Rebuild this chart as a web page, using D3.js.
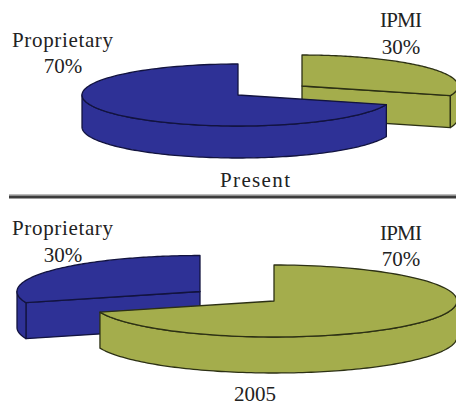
<!DOCTYPE html>
<html>
<head>
<meta charset="utf-8">
<script src="https://cdn.jsdelivr.net/npm/d3@7"></script>
<style>
html,body{margin:0;padding:0;background:#fff;overflow:hidden}
text{font-family:"Liberation Serif",serif;fill:#222;text-anchor:middle}
</style>
</head>
<body>
<svg id="chart" width="456" height="406"></svg>
<script>
// Share of management interfaces, then and now
const categories = ["IPMI", "Proprietary"];
const presentShares = [30, 70];
const earlierShares = [70, 30];
const periods = ["Present", "2005"];
const sliceColors = ["#a4ad4c", "#2e3196"];
const edgeColors = ["#2c3014", "#12133f"];

const svg = d3.select("#chart");
const pie = d3.pie().sort(null).value(d => d);
const line = d3.line();

// Flattened disc: angle is measured clockwise from 12 o'clock
function rimPoint(o, a, drop) {
  return [o.x + o.rx * Math.sin(a), o.y - o.ry * Math.cos(a) + drop];
}
function arcPoints(o, a0, a1, drop) {
  return d3.range(0, 121).map(i => rimPoint(o, a0 + (a1 - a0) * i / 120, drop));
}

function drawSlice(g, slice, o, depth, color, edge) {
  const a0 = slice.startAngle, a1 = slice.endAngle;
  const paint = pts => g.append("path")
    .attr("d", line(pts) + "Z")
    .attr("fill", color)
    .attr("stroke", edge)
    .attr("stroke-width", 1.3)
    .attr("stroke-linejoin", "round");

  // Radial wall, drawn only when it faces the viewer
  const wall = a => {
    const t = rimPoint(o, a, 0);
    paint([[o.x, o.y], t, [t[0], t[1] + depth], [o.x, o.y + depth]]);
  };
  if (-Math.sin(a0) > 1e-6) wall(a0);
  if (Math.sin(a1) > 1e-6) wall(a1);

  // Outer wall: the part of the rim on the near side of the disc
  const lo = Math.max(a0, Math.PI / 2), hi = Math.min(a1, 1.5 * Math.PI);
  if (hi > lo) {
    paint(arcPoints(o, lo, hi, 0).concat(arcPoints(o, hi, lo, depth)));
  }

  // Top face
  paint([[o.x, o.y]].concat(arcPoints(o, a0, a1, 0)));
}

function drawPie(shares, placement, order) {
  const g = svg.append("g");
  const slices = pie(shares);
  order.forEach(i => {
    drawSlice(g, slices[i], placement.centers[i], placement.depth, sliceColors[i], edgeColors[i]);
  });
}

drawPie(presentShares, {
  depth: 32,
  centers: [
    {x: 302, y: 86, rx: 156, ry: 31},
    {x: 238, y: 95, rx: 156, ry: 31}
  ]
}, [0, 1]);

drawPie(earlierShares, {
  depth: 36,
  centers: [
    {x: 274, y: 301, rx: 183, ry: 36},
    {x: 200, y: 291.5, rx: 183, ry: 36}
  ]
}, [1, 0]);

// Divider between the two periods
svg.append("rect").attr("x", 9).attr("y", 194).attr("width", 447).attr("height", 1.5).attr("fill", "#bbb");
svg.append("rect").attr("x", 9).attr("y", 195.5).attr("width", 447).attr("height", 3).attr("fill", "#3c3c3c");

// Labels; wide words are stretched to their set width
const label = (s, x, y, width) => {
  const t = svg.append("text").attr("x", x).attr("y", y).attr("font-size", 21).text(s);
  if (width) t.attr("textLength", width).attr("lengthAdjust", "spacing");
};

label(categories[1], 62.5, 47, 101);
label(presentShares[1] + "%", 63, 73);
label(categories[0], 401, 27, 42);
label(presentShares[0] + "%", 401, 54);
label(periods[0], 255, 187, 70);
label(categories[1], 62.5, 235, 101);
label(earlierShares[1] + "%", 63, 262);
label(categories[0], 401, 240, 42);
label(earlierShares[0] + "%", 401, 266);
label(periods[1], 255, 401);
</script>
</body>
</html>
